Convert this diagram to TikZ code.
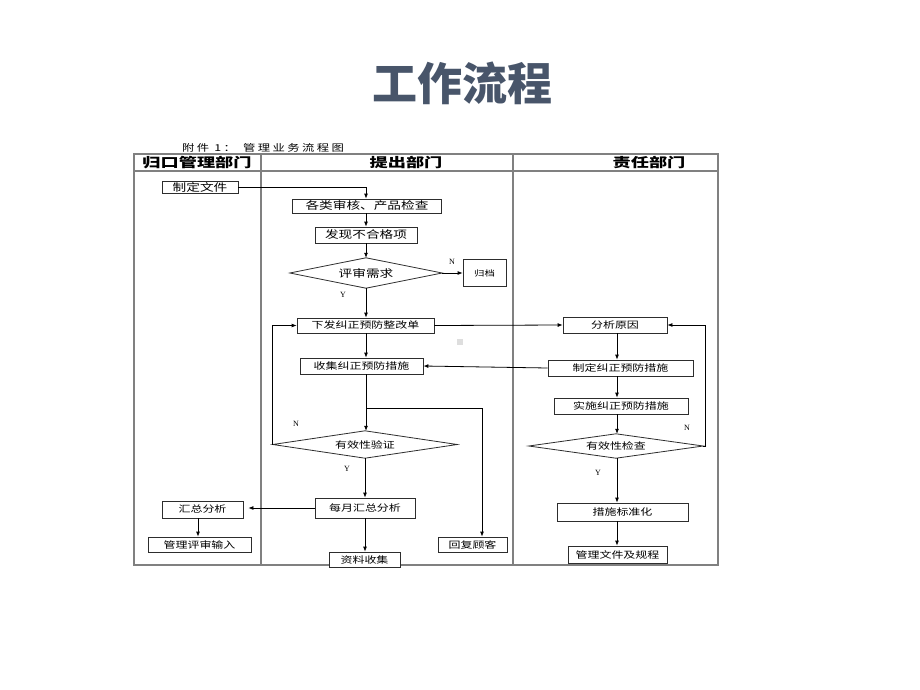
\documentclass[tikz,border=0pt]{standalone}
\usepackage{fontspec}
\setmainfont{Liberation Serif}
\newfontfamily\cjk[FakeStretch=1.3]{Noto Sans CJK SC}
\newfontfamily\cjkh[FakeStretch=1.4]{Noto Sans CJK SC}
\newfontfamily\cjkt{Noto Sans CJK SC}
\newfontfamily\cjkc[FakeStretch=1.3,LetterSpace=25]{Noto Sans CJK SC}
\usetikzlibrary{arrows.meta}
\definecolor{titlecol}{RGB}{72,85,106}
\definecolor{lanecol}{RGB}{128,128,128}
\definecolor{boxcol}{RGB}{45,45,45}
\begin{document}
\begin{tikzpicture}[x=1pt,y=-1pt,
  box/.style={draw=boxcol, fill=white, line width=0.8pt, rectangle, inner sep=0pt,
    font=\cjk\fontsize{9.2}{10}\selectfont},
  sbox/.style={box, font=\cjk\fontsize{10.5}{12}\selectfont},
  dia/.style={rectangle, inner sep=0pt, font=\cjk\fontsize{9.2}{10}\selectfont},
  diaout/.style={draw=boxcol, line width=0.8pt},
  arr/.style={-{Latex[length=5pt,width=4pt]}, line width=0.8pt},
  yn/.style={font=\fontsize{8}{9}\selectfont, inner sep=0pt},
  hdr/.style={font=\cjkh\bfseries\fontsize{13}{14}\selectfont, inner sep=0pt},
  lanes/.style={draw=lanecol, line width=1.3pt}
]
\useasboundingbox[fill=white] (0,0) rectangle (920,690);

% title and caption
\node[font=\cjkt\bfseries\fontsize{45}{50}\selectfont, text=titlecol, inner sep=0pt] (title) at (462,83) {工作流程};
\node[font=\cjkc\fontsize{9.5}{10}\selectfont, anchor=west, inner sep=0pt] (cap1) at (182,148) {附件 1：};
\node[font=\cjkc\fontsize{9.5}{10}\selectfont, anchor=west, inner sep=0pt] (cap2) at (243,148) {管理业务流程图};

% swimlane table
\draw[lanes] (134,154) rectangle (718,565);
\draw[lanes] (134,171) -- (718,171);
\draw[lanes] (261,154) -- (261,565);
\draw[lanes] (513,154) -- (513,565);
\node[hdr] (h1) at (197,163) {归口管理部门};
\node[hdr] (h2) at (406,163) {提出部门};
\node[hdr] (h3) at (649,163) {责任部门};

\coordinate (c2) at (366,0);
\coordinate (c3) at (617,0);
\coordinate (hx) at (482,0);

% lane 1
\node[sbox, minimum width=76pt, minimum height=12pt] (zhiding) at (200,187) {制定文件};
\node[box, minimum width=81pt, minimum height=17pt] (huizong) at (202.5,509.5) {汇总分析};
\node[box, minimum width=103pt, minimum height=15pt] (guanliin) at (199.5,544.5) {管理评审输入};

% lane 2
\node[sbox, minimum width=149pt, minimum height=14pt] (gelei) at (367,206) {各类审核、产品检查};
\node[sbox, minimum width=102pt, minimum height=16pt] (faxian) at (366,235) {发现不合格项};
\node[dia, minimum width=152pt, minimum height=30pt, font=\cjk\fontsize{10.5}{12}\selectfont] (pingshen) at (366,273) {评审需求};
\draw[diaout] (pingshen.west) -- (pingshen.north) -- (pingshen.east) -- (pingshen.south) -- cycle;
\node[box, minimum width=43pt, minimum height=27pt, font=\cjk\fontsize{8}{9}\selectfont] (guidang) at (484.5,273) {归档};
\node[box, minimum width=137pt, minimum height=15pt] (xiafa) at (365.5,325.5) {下发纠正预防整改单};
\node[box, minimum width=123pt, minimum height=16pt] (shouji) at (361.5,366) {收集纠正预防措施};
\node[dia, minimum width=184pt, minimum height=27pt] (youxiao) at (365,444.5) {有效性验证};
\draw[diaout] (youxiao.west) -- (youxiao.north) -- (youxiao.east) -- (youxiao.south) -- cycle;
\node[box, minimum width=100pt, minimum height=20pt] (meiyue) at (365,508) {每月汇总分析};
\node[box, minimum width=71pt, minimum height=15pt] (ziliao) at (364.5,559.5) {资料收集};
\node[box, minimum width=69pt, minimum height=15pt] (huifu) at (472.5,544.5) {回复顾客};

% lane 3
\node[box, minimum width=104pt, minimum height=16pt] (fenxi) at (615,325) {分析原因};
\node[box, minimum width=145pt, minimum height=16pt] (zhidingcs) at (620.5,368) {制定纠正预防措施};
\node[box, minimum width=134pt, minimum height=16pt] (shishi) at (621,406) {实施纠正预防措施};
\node[dia, minimum width=174pt, minimum height=24pt] (jiancha) at (616,446) {有效性检查};
\draw[diaout] (jiancha.west) -- (jiancha.north) -- (jiancha.east) -- (jiancha.south) -- cycle;
\node[box, minimum width=131pt, minimum height=18pt] (biaozhun) at (622.5,512) {措施标准化};
\node[box, minimum width=99pt, minimum height=17pt] (guanliwj) at (617.5,554.5) {管理文件及规程};

% small grey mark
\fill[black!13] (457,339) rectangle (463,345);

% connectors lane 2
\draw[arr] (zhiding.east) -| (gelei.north -| c2);
\draw[arr] (gelei.south -| c2) -- (faxian.north -| c2);
\draw[arr] (faxian.south -| c2) -- (pingshen.north -| c2);
\draw[arr] (pingshen.east) -- (guidang.west);
\draw[arr] (pingshen.south) -- (xiafa.north -| pingshen.south);
\draw[arr] (xiafa.south -| c2) -- (shouji.north -| c2);
\draw[arr] (shouji.south -| c2) -- (youxiao.north -| c2);
\coordinate (br) at (366,408);
\draw[arr] (br) -| (huifu.north -| hx);
\draw[arr] (youxiao.west) |- (xiafa.west);
\draw[arr] (youxiao.south) -- (meiyue.north -| youxiao.south);
\draw[arr, shorten >=5pt] (meiyue.west) -- (meiyue.west -| huizong.east);
\draw[arr] (huizong.south -| 198,0) -- (guanliin.north -| 198,0);
\draw[arr] (meiyue.south) -- (ziliao.north -| meiyue.south);

% cross-lane
\draw[arr] (xiafa.east) -- (fenxi.west);
\draw[arr] (zhidingcs.west) -- (shouji.east);

% lane 3
\draw[arr] (fenxi.south -| c3) -- (zhidingcs.north -| c3);
\draw[arr] (zhidingcs.south -| c3) -- (shishi.north -| c3);
\draw[arr] (shishi.south -| c3) -- (jiancha.north -| c3);
\draw[arr] (jiancha.south -| c3) -- (biaozhun.north -| c3);
\draw[arr] (biaozhun.south -| c3) -- (guanliwj.north -| c3);
\draw[arr] (jiancha.east) -| (705,380) |- (fenxi.east);

% Y / N labels
\node[yn] (n1) at (452,262) {N};
\node[yn] (y1) at (343,295) {Y};
\node[yn] (n2) at (296,424) {N};
\node[yn] (y2) at (347,469) {Y};
\node[yn] (n3) at (687,428) {N};
\node[yn] (y3) at (598,473) {Y};
\end{tikzpicture}
\end{document}
